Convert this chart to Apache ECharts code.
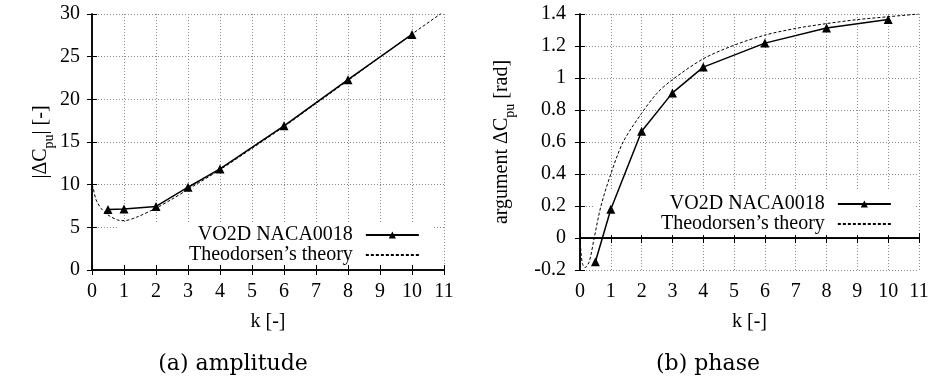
<!DOCTYPE html>
<html>
<head>
<meta charset="utf-8">
<script src="https://cdn.jsdelivr.net/npm/echarts@6/dist/echarts.min.js"></script>
<style>
html,body{margin:0;padding:0;background:#fff;}
#c{width:932px;height:380px;}
</style>
</head>
<body>
<div id="c"></div>
<script>
// ---- data ----
const kTicks = [0,1,2,3,4,5,6,7,8,9,10,11];
const kSim = [0.5, 1, 2, 3, 4, 6, 8, 10];
const ampSim = [7.1, 7.15, 7.45, 9.7, 11.85, 16.9, 22.3, 27.6];
const phaseSim = [-0.148, 0.18, 0.667, 0.907, 1.068, 1.218, 1.312, 1.366];

const kTheoAmp = [0, 0.03, 0.13, 0.29, 0.5, 0.8, 1, 1.4, 2, 2.5, 3, 4, 5, 6, 7, 8, 9, 10, 11];
const ampTheo = [10, 9.7, 8.2, 7.2, 6.45, 5.86, 5.78, 6.2, 7.25, 8.3, 9.45, 11.75, 14.25, 16.8, 19.5, 22.2, 24.95, 27.65, 30.3];

const kTheoPh = [0, 0.03, 0.08, 0.16, 0.3, 0.46, 0.68, 1, 1.4, 2, 2.5, 3, 4, 5, 6, 7, 8, 9, 10, 11];
const phaseTheo = [0, -0.085, -0.16, -0.185, -0.148, 0, 0.2, 0.4, 0.6, 0.78, 0.905, 0.99, 1.12, 1.205, 1.268, 1.31, 1.34, 1.365, 1.383, 1.4];

const nameSim = 'VO2D NACA0018';
const nameTheo = 'Theodorsen\u2019s theory';
const captions = ['(a) amplitude', '(b) phase'];

// ---- build ----
const zip = (a, b) => a.map((v, i) => [v, b[i]]);
const FONT = '"Liberation Serif", "Times New Roman", serif';
const txt = {fontFamily: FONT, fontSize: 20, color: '#000'};
const split = {show: true, lineStyle: {color: '#8a8a8a', type: [1, 2], width: 1}};
const axLine = {show: true, lineStyle: {color: '#000', width: 1.5}};
const tick = {show: true, inside: true, length: 5, lineStyle: {color: '#000', width: 1}};

function xAxes(gi) {
  return [
    {type: 'value', gridIndex: gi, min: 0, max: 11, interval: 1, position: 'bottom',
     axisLine: axLine, axisTick: tick, splitLine: split,
     axisLabel: Object.assign({margin: 12}, txt),
     name: 'k [-]', nameLocation: 'middle', nameGap: 42, nameTextStyle: txt},
    {type: 'value', gridIndex: gi, min: 0, max: 11, interval: 1, position: 'top',
     axisLine: axLine, axisTick: tick, splitLine: {show: false}, axisLabel: {show: false}}
  ];
}
function yAxes(gi, min, max, interval, name, gap, rich, margin) {
  return [
    {type: 'value', gridIndex: gi, min: min, max: max, interval: interval, position: 'left',
     axisLine: axLine, axisTick: tick, splitLine: split,
     axisLabel: Object.assign({margin: margin}, txt),
     name: name, nameLocation: 'middle', nameGap: gap, nameRotate: 90,
     nameTextStyle: Object.assign({rich: rich}, txt)},
    {type: 'value', gridIndex: gi, min: min, max: max, interval: interval, position: 'right',
     axisLine: axLine, axisTick: tick, splitLine: {show: false}, axisLabel: {show: false}}
  ];
}
const rich = {
  n: {fontFamily: FONT, fontSize: 20, lineHeight: 22, verticalAlign: 'top', color: '#000'},
  s: {fontFamily: FONT, fontSize: 14, lineHeight: 14, padding: [11, 0, 0, 0], verticalAlign: 'top', color: '#000'}
};

function simSeries(xi, yi, data) {
  return {type: 'line', name: nameSim, xAxisIndex: xi, yAxisIndex: yi, data: data,
    symbol: 'triangle', symbolSize: 9, color: '#000', z: 6,
    itemStyle: {color: '#000'}, lineStyle: {color: '#000', width: 1.5}};
}
function theoSeries(xi, yi, data) {
  return {type: 'line', name: nameTheo, xAxisIndex: xi, yAxisIndex: yi, data: data,
    symbol: 'none', smooth: 0.3, color: '#000', z: 5,
    lineStyle: {color: '#000', width: 1, type: [3, 2]}};
}
function legend(left, top, padding) {
  return {orient: 'vertical', left: left, top: top, align: 'right', padding: padding,
    backgroundColor: '#fff', itemWidth: 53, itemHeight: 9, itemGap: 0, z: 4,
    selectedMode: false,
    data: [nameSim, {name: nameTheo, itemStyle: {opacity: 0}}],
    textStyle: Object.assign({lineHeight: 20, padding: [0, 8, 0, 0]}, txt)};
}

const xs = xAxes(0).concat(xAxes(1));
const ys = yAxes(0, 0, 30, 5, '{n||ΔC}{s|pu}{n|| [-]}', 36, rich, 12)
  .concat(yAxes(1, -0.2, 1.4, 0.2, '{n|argument ΔC}{s|pu}{n| [rad]}', 66, rich, 14));

const simPhase = simSeries(2, 2, zip(kSim, phaseSim));
simPhase.markLine = {silent: true, symbol: 'none', label: {show: false},
  lineStyle: {color: '#000', width: 1, type: 'solid'}, data: [{yAxis: 0}]};

const capStyle = {fontFamily: '"DejaVu Serif", serif', fontSize: 22, fontWeight: 'normal', color: '#000'};
const option = {
  animation: false,
  backgroundColor: '#fff',
  grid: [
    {left: 92, top: 14, width: 352, height: 256},
    {left: 580, top: 14, width: 339, height: 256}
  ],
  xAxis: xs,
  yAxis: ys,
  legend: [legend(117, 224, [1, 14, 0, 72]), legend(593, 190, [4, 22, 1, 68])],
  title: [
    {text: captions[0], left: 233, top: 353, textAlign: 'center', padding: 0, textStyle: capStyle},
    {text: captions[1], left: 708, top: 353, textAlign: 'center', padding: 0, textStyle: capStyle}
  ],
  series: [
    simSeries(0, 0, zip(kSim, ampSim)),
    theoSeries(0, 0, zip(kTheoAmp, ampTheo)),
    simPhase,
    theoSeries(2, 2, zip(kTheoPh, phaseTheo))
  ]
};
const chart = echarts.init(document.getElementById('c'), null, {renderer: 'canvas'});
chart.setOption(option);
</script>
</body>
</html>
